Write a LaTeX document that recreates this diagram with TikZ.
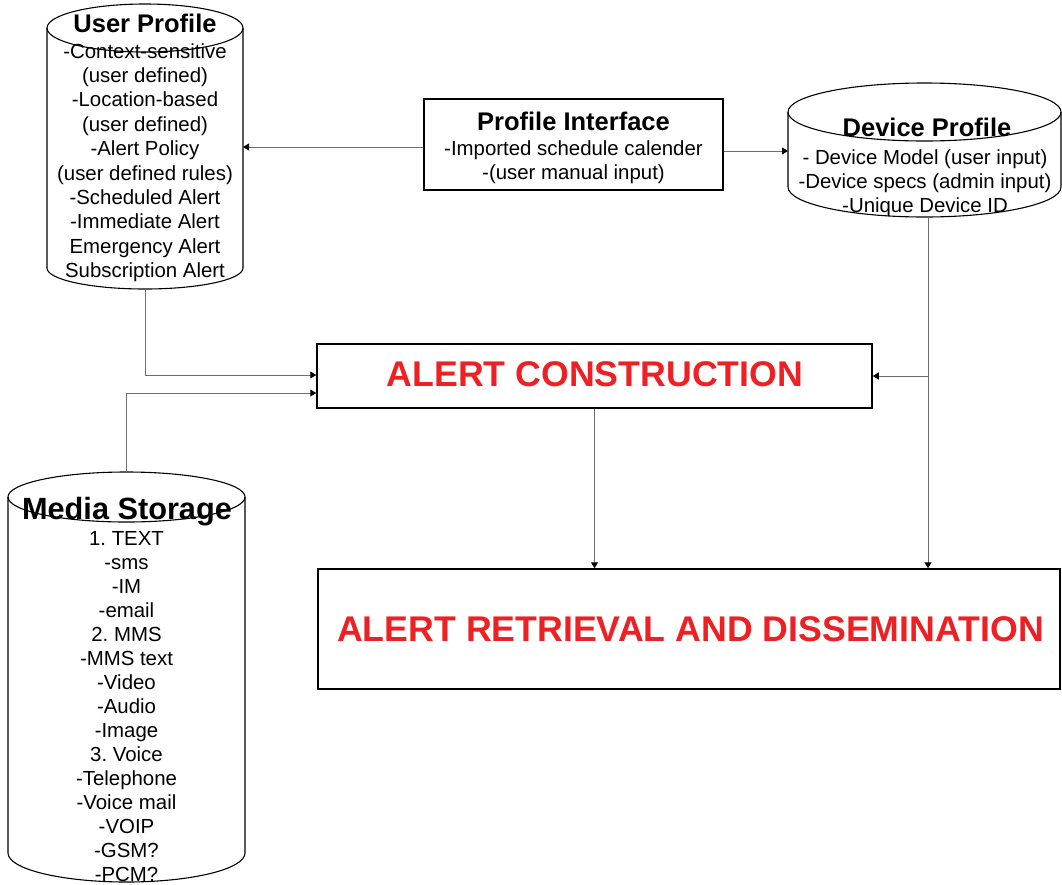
\documentclass[tikz,border=0pt]{standalone}
\usepackage{fontspec}
\setmainfont{Liberation Sans}
\usetikzlibrary{arrows.meta}
\definecolor{alertred}{RGB}{237,32,36}
\definecolor{conngray}{RGB}{110,110,110}
\frenchspacing
\begin{document}
\begin{tikzpicture}[x=1pt,y=-1pt,
  box/.style={draw=black, line width=1.5pt, inner sep=0pt},
  hold/.style={inner sep=0pt, outer sep=0pt, draw=none},
  cyl/.style={draw=black, line width=1.1pt},
  conn/.style={draw=conngray, line width=1pt, -{Triangle[length=6pt,width=7pt,color=black]}},
  ttl/.style={anchor=base, inner sep=0pt, font=\fontsize{25.5}{28}\selectfont\bfseries},
  bigttl/.style={anchor=base, inner sep=0pt, font=\fontsize{30.7}{34}\selectfont\bfseries},
  body/.style={anchor=north, inner sep=0pt, align=center, font=\fontsize{20.4}{24.4}\selectfont},
  alerttext/.style={anchor=base, inner sep=0pt, text=alertred, font=\fontsize{35.7}{40}\selectfont\bfseries}
]
\useasboundingbox (0,0) rectangle (1062,884);

% ---- User Profile cylinder
\draw[cyl] (145,28) ellipse[x radius=98, y radius=24];
\draw[cyl] (47,28) -- (47,268) arc[start angle=180, end angle=0, x radius=98, y radius=21] -- (243,28);
\node[hold, minimum width=196pt, minimum height=285pt] (up) at (145,146.5) {};
\node[ttl] (upT) at (145,32) {User Profile};
\node[body] (upB) at (145,40.9) {\strut-Context-sensitive\\(user defined)\\-Location-based\\(user defined)\\-Alert Policy\\(user defined rules)\\-Scheduled Alert\\-Immediate Alert\\Emergency Alert\\Subscription Alert};

% ---- Device Profile cylinder
\draw[cyl] (924.5,112) ellipse[x radius=136.5, y radius=29];
\draw[cyl] (788,112) -- (788,187) arc[start angle=180, end angle=0, x radius=136.5, y radius=30] -- (1061,112);
\node[hold, minimum width=273pt, minimum height=134pt] (dp) at (924.5,150) {};
\node[ttl] (dpT) at (927,136.5) {Device Profile};
\node[body, font=\fontsize{20.4}{24}\selectfont] (dpB) at (925,147.9) {\strut- Device Model (user input)\\-Device specs (admin input)\\-Unique Device ID};

% ---- Media Storage cylinder
\draw[cyl] (126.5,497) ellipse[x radius=118.5, y radius=25];
\draw[cyl] (8,497) -- (8,853) arc[start angle=180, end angle=0, x radius=118.5, y radius=29] -- (245,497);
\node[hold, minimum width=237pt, minimum height=410pt] (ms) at (126.5,677) {};
\node[bigttl] (msT) at (127,519) {Media Storage};
\node[body, font=\fontsize{20.4}{24}\selectfont] (msB) at (126.5,528.2) {\strut 1. TEXT\\-sms\\-IM\\-email\\2. MMS\\-MMS text\\-Video\\-Audio\\-Image\\3. Voice\\-Telephone\\-Voice mail\\-VOIP\\-GSM?\\-PCM?};

% ---- Profile Interface box
\node[box, minimum width=299pt, minimum height=91pt] (pi) at (573.5,144.5) {};
\node[ttl] (piT) at (573.5,130) {Profile Interface};
\node[body, font=\fontsize{20.4}{24}\selectfont] (piB) at (573.5,138.2) {\strut-Imported schedule calender\\-(user manual input)};

% ---- Alert boxes
\node[box, minimum width=555pt, minimum height=64pt] (ac) at (594.5,376) {};
\node[alerttext] (acT) at (595,386) {ALERT CONSTRUCTION};
\node[box, minimum width=742pt, minimum height=120pt] (ard) at (689,629) {};
\node[alerttext] (ardT) at (690.5,641) {ALERT RETRIEVAL AND DISSEMINATION};

% ---- Connectors
\draw[conn] ([yshift=-2.5pt]pi.west) coordinate (piL) -- (up.east |- piL);
\draw[conn] ([yshift=-6.5pt]pi.east) coordinate (piR) -- (dp.west |- piR);
\draw[conn] (up.south) |- ([yshift=1pt]ac.west);
\draw[conn] (ms.north) |- ([yshift=-17pt]ac.west);
\coordinate (dpv) at ([xshift=3.5pt]dp.south);
\draw[conn] (dpv) -- (dpv |- ard.north);
\draw[conn] (dpv |- ac.east) -- (ac.east);
\draw[conn] (ac.south) -- (ac.south |- ard.north);
\end{tikzpicture}
\end{document}
